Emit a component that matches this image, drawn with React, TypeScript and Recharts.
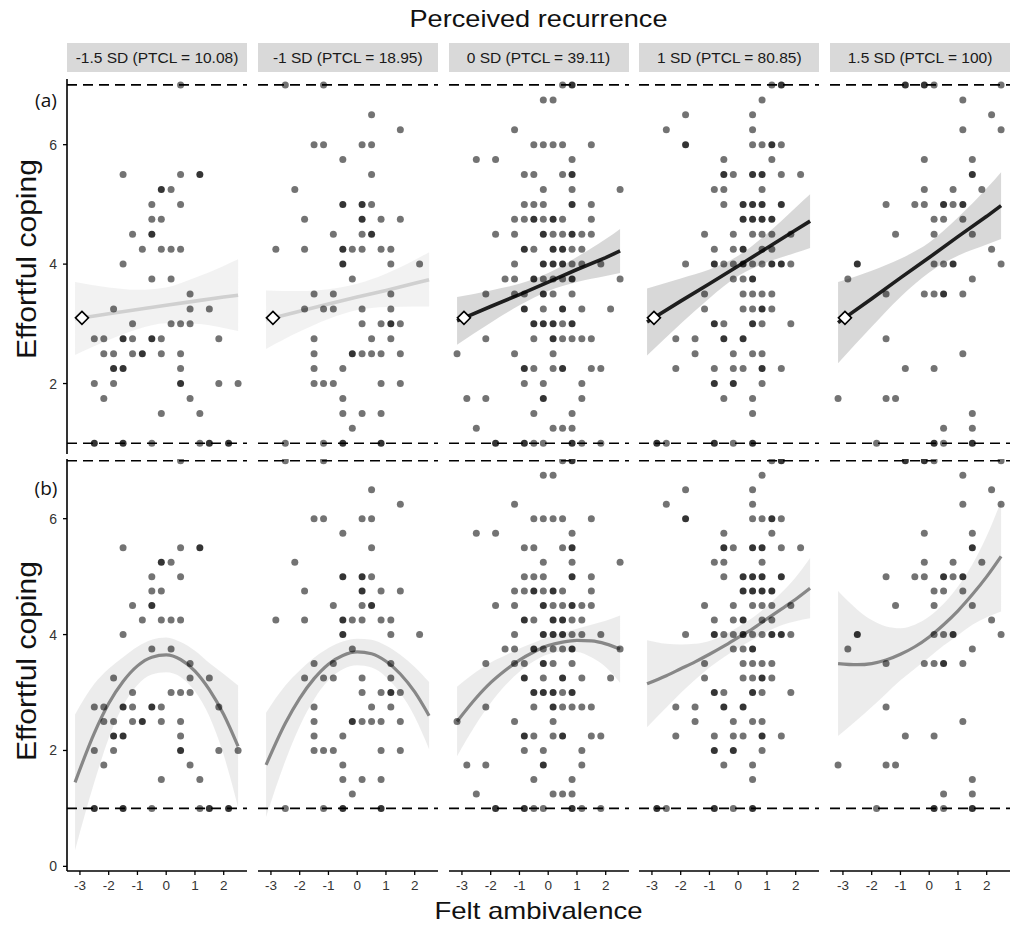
import React from 'react';
import { ComposedChart, Scatter, Line, Area, XAxis, YAxis, ReferenceLine } from 'recharts';

const stripLabels = ['-1.5 SD (PTCL = 10.08)', '-1 SD (PTCL = 18.95)', '0 SD (PTCL = 39.11)', '1 SD (PTCL = 80.85)', '1.5 SD (PTCL = 100)'];
const xTicks = [-3, -2, -1, 0, 1, 2];
const yTicksA = [2, 4, 6];
const yTicksB = [0, 2, 4, 6];

// row (a): linear simple slopes
const xsA = [-3.17, -2, -1, 0, 1, 2, 2.5];
const fitA = [
  [3.08, 3.17, 3.24, 3.31, 3.38, 3.45, 3.48],
  [3.07, 3.21, 3.33, 3.45, 3.56, 3.68, 3.74],
  [3.05, 3.29, 3.49, 3.70, 3.91, 4.11, 4.22],
  [3.03, 3.38, 3.67, 3.97, 4.27, 4.57, 4.72],
  [3.02, 3.42, 3.77, 4.11, 4.46, 4.80, 4.98],
];
const loA = [
  [2.48, 2.73, 2.91, 3.01, 3.00, 2.93, 2.88],
  [2.58, 2.87, 3.08, 3.23, 3.28, 3.29, 3.29],
  [2.65, 3.02, 3.31, 3.55, 3.70, 3.80, 3.85],
  [2.47, 3.00, 3.43, 3.80, 4.03, 4.19, 4.27],
  [2.34, 2.95, 3.45, 3.86, 4.14, 4.33, 4.42],
];
const hiA = [
  [3.70, 3.61, 3.57, 3.61, 3.77, 3.97, 4.08],
  [3.56, 3.55, 3.58, 3.67, 3.84, 4.07, 4.20],
  [3.45, 3.56, 3.67, 3.85, 4.12, 4.42, 4.59],
  [3.59, 3.76, 3.91, 4.14, 4.51, 4.95, 5.17],
  [3.70, 3.89, 4.09, 4.36, 4.78, 5.27, 5.54],
];
const diamond = { x: -2.93, y: 3.1 };

// row (b): quadratic fits
const xsB = [-3.17, -2.5, -2, -1.5, -1, -0.5, 0, 0.5, 1, 1.5, 2, 2.5];
const fitB = [
  [1.45, 2.30, 2.81, 3.19, 3.46, 3.61, 3.65, 3.57, 3.37, 3.05, 2.62, 2.07],
  [1.75, 2.47, 2.90, 3.24, 3.49, 3.64, 3.70, 3.67, 3.54, 3.32, 3.01, 2.60],
  [2.50, 2.91, 3.17, 3.38, 3.56, 3.70, 3.81, 3.87, 3.90, 3.89, 3.84, 3.75],
  [3.15, 3.29, 3.41, 3.53, 3.66, 3.80, 3.95, 4.10, 4.27, 4.44, 4.61, 4.80],
  [3.50, 3.48, 3.50, 3.56, 3.66, 3.79, 3.96, 4.17, 4.41, 4.69, 5.00, 5.35],
];
const loB = [
  [0.28, 1.45, 2.21, 2.77, 3.13, 3.31, 3.35, 3.27, 3.02, 2.59, 1.92, 1.02],
  [0.85, 1.82, 2.42, 2.88, 3.21, 3.40, 3.47, 3.43, 3.27, 2.99, 2.58, 2.02],
  [1.90, 2.46, 2.82, 3.12, 3.36, 3.54, 3.66, 3.71, 3.70, 3.61, 3.44, 3.17],
  [2.40, 2.74, 2.99, 3.22, 3.43, 3.61, 3.77, 3.91, 4.05, 4.16, 4.23, 4.28],
  [2.25, 2.53, 2.75, 2.98, 3.21, 3.41, 3.61, 3.81, 3.99, 4.17, 4.30, 4.40],
];
const hiB = [
  [2.62, 3.15, 3.41, 3.61, 3.79, 3.91, 3.95, 3.87, 3.72, 3.51, 3.32, 3.12],
  [2.65, 3.12, 3.38, 3.60, 3.77, 3.88, 3.93, 3.91, 3.81, 3.65, 3.44, 3.18],
  [3.10, 3.36, 3.52, 3.64, 3.76, 3.86, 3.96, 4.03, 4.10, 4.17, 4.24, 4.33],
  [3.90, 3.84, 3.83, 3.84, 3.89, 3.99, 4.13, 4.29, 4.49, 4.72, 4.99, 5.32],
  [4.75, 4.43, 4.25, 4.14, 4.11, 4.17, 4.31, 4.53, 4.83, 5.21, 5.70, 6.30],
];

// observations: [felt ambivalence, effortful coping, count]
const pts1 = [
  [0.5,7,1],
  [-1.5,5.5,1],[0.5,5.5,1],[1.17,5.5,2],
  [-0.17,5.25,2],[0.17,5.25,1],
  [-0.5,5,1],[0.5,5,1],
  [-0.5,4.75,1],[-0.17,4.75,1],
  [-1.17,4.5,1],[-0.5,4.5,2],
  [-0.83,4.25,1],[-0.17,4.25,1],[0.17,4.25,1],[0.5,4.25,1],
  [-1.5,4,1],
  [-0.5,3.75,1],[0.17,3.75,1],
  [0.83,3.5,1],
  [-1.83,3.25,1],[0.83,3.25,1],[1.5,3.25,1],
  [-1.17,3,1],[0.17,3,1],[0.5,3,1],[0.83,3,1],
  [-2.5,2.75,1],[-2.17,2.75,1],[-1.5,2.75,2],[-1.17,2.75,1],[-0.5,2.75,2],[-0.17,2.75,1],[1.83,2.75,1],
  [-2.17,2.5,1],[-1.83,2.5,1],[-1.17,2.5,1],[-0.83,2.5,2],[-0.17,2.5,1],[0.5,2.5,1],
  [-1.83,2.25,2],[-1.5,2.25,2],[0.5,2.25,1],
  [-2.5,2,1],[-1.83,2,1],[0.5,2,2],[1.83,2,1],[2.5,2,1],
  [-2.17,1.75,1],[0.83,1.75,1],
  [-0.17,1.5,1],[1.17,1.5,1],
  [-2.5,1,2],[-1.5,1,2],[-0.5,1,1],[1.17,1,1],[1.5,1,2],[2.17,1,2],
];
const pts2 = [
  [-2.5,7,1],[-1.17,7,1],
  [0.5,6.5,1],
  [1.5,6.25,1],
  [-1.5,6,1],[-1.17,6,1],[0.17,6,1],[0.5,6,1],
  [-0.5,5.75,1],
  [0.5,5.5,1],
  [-2.17,5.25,1],
  [-0.5,5,2],[0.17,5,2],[0.5,5,1],
  [-1.83,4.75,1],[0.17,4.75,2],[0.83,4.75,1],[1.5,4.75,1],
  [-0.83,4.5,1],[0.17,4.5,1],[0.5,4.5,2],
  [-2.83,4.25,1],[-1.83,4.25,1],[-0.5,4.25,2],[-0.17,4.25,1],[0.17,4.25,1],[0.83,4.25,1],[1.17,4.25,1],
  [-0.5,4,2],[1.17,4,1],[2.17,4,1],
  [-0.17,3.75,1],
  [-1.5,3.5,1],[-0.83,3.5,1],[1.17,3.5,1],
  [-1.83,3.25,1],[-1.17,3.25,1],[-0.83,3.25,1],[0.17,3.25,1],[1.17,3.25,1],
  [0.17,3,1],[0.83,3,1],[1.17,3,2],[1.5,3,1],
  [-1.5,2.75,1],[0.5,2.75,1],[1.17,2.75,1],
  [-1.5,2.5,1],[-0.17,2.5,2],[0.17,2.5,1],[0.5,2.5,1],[0.83,2.5,1],[1.5,2.5,1],
  [-1.5,2.25,1],[-0.5,2.25,1],
  [-1.5,2,1],[-1.17,2,1],[-0.83,2,1],[0.83,2,1],[1.5,2,1],
  [-0.5,1.75,1],
  [-0.5,1.5,1],[0.17,1.5,1],[0.83,1.5,1],
  [-0.17,1.25,1],
  [-2.5,1,1],[-1.17,1,1],[-0.5,1,2],[0.83,1,2],
];
const pts3 = [
  [0.5,7,1],[0.83,7,2],
  [-0.17,6.75,1],[0.17,6.75,1],
  [-1.17,6.25,1],
  [-0.5,6,1],[-0.17,6,1],[0.17,6,1],[0.5,6,1],[1.5,6,1],
  [-2.5,5.75,1],[-1.83,5.75,1],[0.83,5.75,1],
  [-0.83,5.5,1],[-0.5,5.5,1],[0.5,5.5,1],[0.83,5.5,2],
  [-0.17,5.25,1],[0.83,5.25,1],[2.5,5.25,1],
  [-0.83,5,1],[-0.5,5,1],[-0.17,5,1],[0.83,5,2],[1.5,5,1],
  [-1.17,4.75,1],[-0.83,4.75,1],[-0.5,4.75,2],[-0.17,4.75,1],[0.17,4.75,2],[0.5,4.75,1],[1.5,4.75,1],
  [-1.83,4.5,1],[-1.17,4.5,1],[-0.17,4.5,2],[0.17,4.5,1],[0.5,4.5,1],[0.83,4.5,2],[1.17,4.5,1],[1.5,4.5,1],
  [-0.83,4.25,2],[-0.5,4.25,1],[0.17,4.25,2],[0.5,4.25,2],[0.83,4.25,1],[1.17,4.25,1],
  [-1.17,4,1],[-0.17,4,2],[0.17,4,2],[0.5,4,2],[0.83,4,1],[1.17,4,1],[1.83,4,1],
  [-1.5,3.75,1],[-1.17,3.75,1],[-0.5,3.75,2],[-0.17,3.75,1],[0.17,3.75,1],[0.5,3.75,1],[0.83,3.75,2],[2.5,3.75,1],
  [-2.17,3.5,1],[-1.17,3.5,1],[-0.83,3.5,1],[-0.17,3.5,2],[0.17,3.5,1],[0.83,3.5,1],
  [-0.83,3.25,2],[-0.17,3.25,1],[0.5,3.25,2],[1.17,3.25,1],[2.17,3.25,1],
  [-0.5,3,2],[-0.17,3,2],[0.17,3,2],[0.5,3,1],[0.83,3,2],
  [-2.17,2.75,1],[-0.5,2.75,1],[0.17,2.75,2],[0.5,2.75,1],[0.83,2.75,1],[1.17,2.75,1],[1.5,2.75,1],
  [-3.17,2.5,1],[-1.17,2.5,1],[0.17,2.5,1],
  [-0.83,2.25,2],[-0.5,2.25,1],[0.17,2.25,1],[0.5,2.25,2],[1.5,2.25,1],[1.83,2.25,1],
  [-0.83,2,1],[-0.17,2,1],[1.17,2,1],
  [-2.83,1.75,1],[-2.17,1.75,1],[-0.17,1.75,2],[1.17,1.75,1],
  [-0.5,1.5,1],[0.83,1.5,1],
  [-2.5,1.25,1],[0.17,1.25,1],[0.5,1.25,1],[0.83,1.25,1],
  [-1.83,1,2],[-0.83,1,2],[-0.5,1,1],[-0.17,1,1],[0.83,1,2],[1.17,1,1],[1.83,1,1],
];
const pts4 = [
  [1.17,7,1],[1.5,7,2],
  [0.83,6.75,1],
  [-1.83,6.5,1],[0.5,6.5,1],
  [-2.5,6.25,1],[0.5,6.25,1],
  [-1.83,6,2],[0.5,6,1],[0.83,6,1],[1.17,6,2],[1.5,6,1],
  [-0.5,5.75,1],[1.17,5.75,1],
  [-0.5,5.5,2],[-0.17,5.5,1],[0.5,5.5,2],[0.83,5.5,2],[1.5,5.5,1],[2.17,5.5,1],
  [-0.83,5.25,1],[-0.5,5.25,1],[0.83,5.25,1],
  [-0.5,5,1],[0.17,5,2],[0.5,5,2],[0.83,5,2],[1.5,5,2],
  [0.17,4.75,2],[0.5,4.75,2],[0.83,4.75,2],[1.17,4.75,2],
  [-1.17,4.5,1],[-0.17,4.5,1],[0.5,4.5,1],[0.83,4.5,1],[1.17,4.5,1],[1.83,4.5,1],
  [-0.83,4.25,1],[-0.17,4.25,1],[0.17,4.25,2],[0.83,4.25,1],[1.17,4.25,1],
  [-1.83,4,1],[-0.83,4,2],[-0.5,4,1],[-0.17,4,1],[0.17,4,2],[0.5,4,1],[0.83,4,1],[1.17,4,2],[1.5,4,2],[1.83,4,1],
  [-0.17,3.75,1],[0.17,3.75,1],[0.5,3.75,2],
  [-1.17,3.5,1],[0.17,3.5,1],[0.5,3.5,1],[0.83,3.5,1],[1.17,3.5,1],
  [-1.17,3.25,1],[0.17,3.25,1],[0.5,3.25,1],[0.83,3.25,2],[1.17,3.25,1],
  [-0.83,3,2],[-0.5,3,1],[0.5,3,2],[0.83,3,1],[1.83,3,1],
  [-2.17,2.75,1],[-1.5,2.75,1],[-0.5,2.75,2],[0.17,2.75,2],
  [-1.5,2.5,1],[-0.17,2.5,1],[0.5,2.5,1],[0.83,2.5,1],
  [-2.17,2.25,1],[-0.83,2.25,1],[-0.17,2.25,1],[0.17,2.25,1],[0.83,2.25,2],[1.5,2.25,1],
  [-0.83,2,2],[-0.17,2,2],[0.83,2,1],
  [-0.5,1.75,1],[0.5,1.75,1],
  [0.5,1.5,1],
  [-2.83,1,2],[-2.5,1,1],[-0.83,1,2],[-0.17,1,1],[0.5,1,2],
];
const pts5 = [
  [-0.83,7,2],[-0.17,7,2],[0.17,7,1],[2.5,7,1],
  [1.17,6.75,1],
  [2.17,6.5,1],
  [1.17,6.25,1],[2.5,6.25,1],
  [-0.17,5.75,1],[1.5,5.75,1],
  [1.5,5.5,2],
  [-0.17,5.25,1],[0.83,5.25,1],[1.83,5.25,1],
  [-1.5,5,1],[-0.5,5,1],[-0.17,5,1],[0.5,5,2],[0.83,5,1],[1.17,5,2],
  [0.17,4.75,1],[0.5,4.75,1],[1.17,4.75,1],
  [-1.17,4.5,1],[0.17,4.5,1],[1.5,4.5,1],
  [2.17,4.25,1],
  [-2.5,4,2],[0.17,4,1],[0.5,4,1],[0.83,4,2],[2.5,4,1],
  [-2.83,3.75,1],[1.5,3.75,1],
  [-1.5,3.5,1],[-0.17,3.5,1],[0.17,3.5,1],[0.5,3.5,2],[1.17,3.5,1],
  [-1.5,2.75,1],
  [1.17,2.5,1],
  [-0.83,2.25,1],[0.17,2.25,1],
  [-3.17,1.75,1],[-1.5,1.75,1],[-1.17,1.75,1],
  [1.5,1.5,1],
  [0.5,1.25,1],[1.5,1.25,1],
  [-1.83,1,1],[0.17,1,2],[0.5,1,1],[1.5,1,2],
];
const allPts = [pts1, pts2, pts3, pts4, pts5];

const lineColorA = ['#d0d0d0', '#d0d0d0', '#1e1e1e', '#1e1e1e', '#1e1e1e'];
const bandColorA = ['#c4c4c4', '#c4c4c4', '#8f8f8f', '#8f8f8f', '#8f8f8f'];
const bandOpacityA = [0.22, 0.22, 0.35, 0.35, 0.35];

const PANEL_LEFT = [67, 257.75, 448.5, 639.25, 830];
const PANEL_W = 180;
const YAXIS_W = 40;
const FONT = '"Liberation Sans", Arial, Helvetica, sans-serif';

const DotShape = (props: any) => {
  const n = (props.payload && props.payload.n) || 1;
  if (props.cx == null || props.cy == null) return null;
  return <circle cx={props.cx} cy={props.cy} r={3.5} fill="#000" fillOpacity={1 - Math.pow(0.45, n)} />;
};

const DiamondShape = (props: any) => {
  const { cx, cy } = props;
  if (cx == null || cy == null) return null;
  const s = 6.5;
  return (
    <polygon
      points={`${cx},${cy - s} ${cx + s},${cy} ${cx},${cy + s} ${cx - s},${cy}`}
      fill="#fff"
      stroke="#000"
      strokeWidth={1.6}
    />
  );
};

function Panel({ row, col }: { row: number; col: number }) {
  const isA = row === 0;
  const first = col === 0;
  const plotTop = isA ? 79 : 459;
  const plotH = isA ? 375 : 412;
  const xAxisH = isA ? 0 : 30;
  const yW = first ? YAXIS_W : 0;
  const xs = isA ? xsA : xsB;
  const fit = isA ? fitA[col] : fitB[col];
  const lo = isA ? loA[col] : loB[col];
  const hi = isA ? hiA[col] : hiB[col];
  const data = xs.map((x, i) => ({ x, fit: fit[i], band: [lo[i], hi[i]] }));
  const pts = allPts[col].map(([x, y, n]) => ({ x, y, n }));
  const axisStyle = { stroke: '#000', strokeWidth: 1.6 };
  return (
    <div style={{ position: 'absolute', left: PANEL_LEFT[col] - yW, top: plotTop }}>
      <ComposedChart
        width={PANEL_W + yW}
        height={plotH + xAxisH}
        data={data}
        margin={{ top: 0, right: 0, bottom: 0, left: 0 }}
      >
        <XAxis
          type="number"
          dataKey="x"
          domain={[-3.45, 2.81]}
          allowDataOverflow
          ticks={xTicks}
          hide={isA}
          height={xAxisH}
          axisLine={axisStyle}
          tickLine={{ stroke: '#000', strokeWidth: 1.3 }}
          tickSize={4}
          tickMargin={5}
          tick={{ fontSize: 13.5, fill: '#333', fontFamily: FONT }}
          interval={0}
        />
        <YAxis
          type="number"
          dataKey="y"
          domain={isA ? [0.82, 7.1] : [-0.08, 7.03]}
          allowDataOverflow
          ticks={isA ? yTicksA : yTicksB}
          hide={!first}
          width={YAXIS_W}
          axisLine={axisStyle}
          tickLine={{ stroke: '#000', strokeWidth: 1.3 }}
          tickSize={4}
          tickMargin={6}
          tick={{ fontSize: 14, fill: '#333', fontFamily: FONT }}
          interval={0}
        />
        <ReferenceLine y={1} stroke="#000" strokeWidth={1.7} strokeDasharray="10 6" />
        <ReferenceLine y={7} stroke="#000" strokeWidth={1.7} strokeDasharray="10 6" />
        <Scatter data={pts} shape={DotShape} isAnimationActive={false} />
        <Area
          dataKey="band"
          type="monotone"
          stroke="none"
          fill={isA ? bandColorA[col] : '#a8a8a8'}
          fillOpacity={isA ? bandOpacityA[col] : 0.22}
          isAnimationActive={false}
          dot={false}
          activeDot={false}
        />
        <Line
          dataKey="fit"
          type={isA ? 'linear' : 'monotone'}
          stroke={isA ? lineColorA[col] : '#878787'}
          strokeWidth={isA ? 3.6 : 3.2}
          dot={false}
          activeDot={false}
          isAnimationActive={false}
        />
        {isA && <Scatter data={[diamond]} shape={DiamondShape} isAnimationActive={false} />}
      </ComposedChart>
    </div>
  );
}

export default function App() {
  const rows = [0, 1];
  const cols = [0, 1, 2, 3, 4];
  return (
    <div
      style={{
        position: 'absolute',
        left: 0,
        top: 0,
        width: 1012,
        height: 925,
        background: '#fff',
        fontFamily: FONT,
        overflow: 'hidden',
      }}
    >
      <svg width={1012} height={925} style={{ position: 'absolute', left: 0, top: 0 }}>
        <text x={538.5} y={27} textAnchor="middle" fontSize={24} fill="#111" fontFamily={FONT} textLength={258} lengthAdjust="spacingAndGlyphs">
          Perceived recurrence
        </text>
        <text x={538.5} y={919} textAnchor="middle" fontSize={24} fill="#111" fontFamily={FONT} textLength={208} lengthAdjust="spacingAndGlyphs">
          Felt ambivalence
        </text>
        <text transform="translate(36,259) rotate(-90)" textAnchor="middle" fontSize={27} fill="#111" fontFamily={FONT} textLength={200} lengthAdjust="spacingAndGlyphs">
          Effortful coping
        </text>
        <text transform="translate(36,661) rotate(-90)" textAnchor="middle" fontSize={27} fill="#111" fontFamily={FONT} textLength={200} lengthAdjust="spacingAndGlyphs">
          Effortful coping
        </text>
        <text x={46} y={107} textAnchor="middle" fontSize={19} fill="#111" fontFamily='"Open Sans", sans-serif'>(a)</text>
        <text x={46} y={495} textAnchor="middle" fontSize={19} fill="#111" fontFamily='"Open Sans", sans-serif'>(b)</text>
      </svg>
      {cols.map((c) => (
        <div
          key={'strip' + c}
          style={{
            position: 'absolute',
            left: PANEL_LEFT[c],
            top: 43,
            width: PANEL_W,
            height: 29,
            background: '#d9d9d9',
            color: '#1a1a1a',
            fontSize: 15.5,
            lineHeight: '29px',
            textAlign: 'center',
            whiteSpace: 'nowrap',
          }}
        >
          {stripLabels[c]}
        </div>
      ))}
      {rows.map((r) => cols.map((c) => <Panel key={r + '-' + c} row={r} col={c} />))}
    </div>
  );
}
